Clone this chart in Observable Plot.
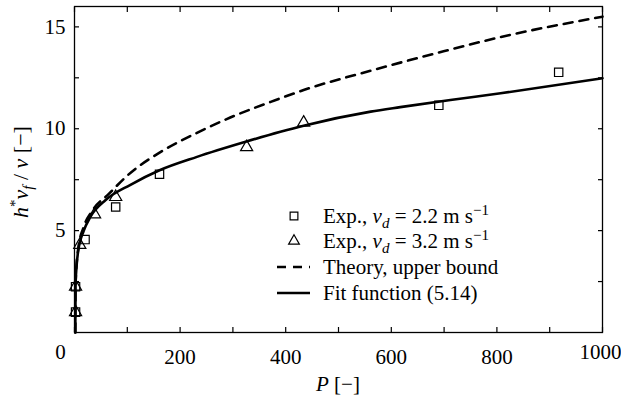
<!DOCTYPE html>
<html>
<head>
<meta charset="utf-8">
<script src="https://cdn.jsdelivr.net/npm/d3@7"></script>
<script src="https://cdn.jsdelivr.net/npm/@observablehq/plot@0.6"></script>
<style>
  html, body { margin: 0; padding: 0; background: white; }
  svg { display: block; }
  svg text, svg tspan { font-family: "Liberation Serif", "Times New Roman", serif !important; }
</style>
</head>
<body>
<div id="chart"></div>
<script>
// Experimental data, v_d = 2.2 m/s (squares)
const expSlowP = [2, 2, 20, 78, 161, 690, 917];
const expSlowH = [1.0, 2.25, 4.56, 6.16, 7.77, 11.15, 12.77];
// Experimental data, v_d = 3.2 m/s (triangles)
const expFastP = [2, 2, 10, 38, 78, 326, 434];
const expFastH = [1.0, 2.25, 4.3, 5.8, 6.65, 9.1, 10.3];
// Fit function (5.14)
const fitP = [1.5, 2, 7, 17.6, 30, 59, 106, 160, 232, 324, 390, 434, 561, 617, 712, 807, 1000];
const fitH = [0, 2.4, 4.0, 5.0, 5.67, 6.5, 7.25, 7.95, 8.62, 9.36, 9.85, 10.15, 10.84, 11.06, 11.41, 11.74, 12.48];
// Theory, upper bound
const theoryP = [1.5, 2, 7, 17, 33, 65, 100, 169, 232, 295, 380, 434, 561, 699, 807, 1000];
const theoryH = [0, 2.4, 4.1, 5.15, 5.95, 6.8, 7.7, 8.95, 9.8, 10.55, 11.4, 11.9, 12.85, 13.8, 14.5, 15.5];
// Ticks
const xTicks = [0, 100, 200, 300, 400, 500, 600, 700, 800, 900, 1000];
const xLabels = [200, 400, 600, 800, 1000];
const yTicks = [2.5, 5, 7.5, 10, 12.5, 15];
const yLabels = [5, 10, 15];

const zip = (xs, ys) => xs.map((x, i) => ({x, y: ys[i]}));
const fitData = zip(fitP, fitH);
const theoryData = zip(theoryP, theoryH);
const squares = zip(expSlowP, expSlowH);
const triangles = zip(expFastP, expFastH);

const FONT = "Liberation Serif";
const txt = {fontFamily: FONT, fontSize: 21};

const chart = Plot.plot({
  width: 621,
  height: 397,
  marginTop: 6,
  marginBottom: 65,
  marginLeft: 74,
  marginRight: 19,
  x: {domain: [0, 1000]},
  y: {domain: [0, 16]},
  style: {fontFamily: FONT, fontSize: "21px", background: "white", color: "black", overflow: "visible"},
  marks: [
    Plot.line(theoryData, {x: "x", y: "y", curve: "monotone-x", stroke: "black", strokeWidth: 2.6, strokeDasharray: "9,7"}),
    Plot.line(fitData, {x: "x", y: "y", curve: "monotone-x", stroke: "black", strokeWidth: 2.6}),
    Plot.dot(squares, {x: "x", y: "y", symbol: "square", r: 4.7, stroke: "black", strokeWidth: 1.2, fill: "none"}),
    Plot.dot(triangles, {x: "x", y: "y", symbol: "triangle", r: 4.5, stroke: "black", strokeWidth: 1.2, fill: "none"}),
    Plot.frame({stroke: "black", strokeWidth: 1.3}),
    // bottom axis: inward ticks + labels
    Plot.axisX({anchor: "bottom", ticks: xTicks, tickSize: 5, dy: -5, tickPadding: 17, ...txt,
      tickFormat: d => xLabels.includes(d) && d < 1000 ? String(d) : "", label: null, strokeWidth: 1.2}),
    Plot.axisX({anchor: "bottom", ticks: [1000], tickSize: 0, tickPadding: 12, dx: -2, ...txt,
      tickFormat: d => String(d), label: null}),
    Plot.axisX({anchor: "bottom", ticks: [0], tickSize: 0, tickPadding: 12, dx: -14, ...txt,
      tickFormat: d => String(d), label: null}),
    // top axis: inward ticks only
    Plot.axisX({anchor: "top", ticks: xTicks, tickSize: 5, dy: 5, tickFormat: () => "", label: null, strokeWidth: 1.2}),
    // left axis
    Plot.axisY({anchor: "left", ticks: yTicks, tickSize: 5, dx: 5, tickPadding: 9, ...txt,
      tickFormat: d => yLabels.includes(d) ? String(d) : "", label: null, strokeWidth: 1.2}),
    // right axis: inward ticks only
    Plot.axisY({anchor: "right", ticks: yTicks, tickSize: 5, dx: -5, tickFormat: () => "", label: null, strokeWidth: 1.2})
  ]
});
document.getElementById("chart").appendChild(chart);

const svg = d3.select(chart);

// Axis titles
const xt = svg.append("text")
  .attr("x", 338).attr("y", 391)
  .attr("text-anchor", "middle")
  .attr("font-size", 21).attr("fill", "black");
xt.append("tspan").attr("font-style", "italic").text("P");
xt.append("tspan").text(" [\u2212]");

const yt = svg.append("text")
  .attr("transform", "translate(28,172) rotate(-90)")
  .attr("text-anchor", "middle")
  .attr("font-size", 22).attr("fill", "black");
yt.append("tspan").attr("font-style", "italic").text("h");
yt.append("tspan").attr("font-size", 15).attr("dy", -8).text("*");
yt.append("tspan").attr("font-style", "italic").attr("dy", 8).text("v");
yt.append("tspan").attr("font-style", "italic").attr("font-size", 15).attr("dy", 5).text("f");
yt.append("tspan").attr("dy", -5).text(" / ");
yt.append("tspan").attr("font-style", "italic").text("\u03BD");
yt.append("tspan").text(" [\u2212]");

// Legend
const legendRows = [
  {kind: "square", parts: [["Exp., "], ["v", "it"], ["d", "sub"], [" = 2.2 m s"], ["\u22121", "sup"]]},
  {kind: "triangle", parts: [["Exp., "], ["v", "it"], ["d", "sub"], [" = 3.2 m s"], ["\u22121", "sup"]]},
  {kind: "dash", parts: [["Theory, upper bound"]]},
  {kind: "solid", parts: [["Fit function (5.14)"]]}
];
const rowY = [216, 241, 267, 293];
const lg = svg.append("g");
legendRows.forEach((row, i) => {
  const cy = rowY[i];
  if (row.kind === "square" || row.kind === "triangle") {
    lg.append("path")
      .attr("d", d3.symbol(row.kind === "square" ? d3.symbolSquare : d3.symbolTriangle, row.kind === "square" ? 60 : 50)())
      .attr("transform", `translate(294,${cy})`)
      .attr("fill", "none").attr("stroke", "black").attr("stroke-width", 1.2);
  } else {
    lg.append("line")
      .attr("x1", 277).attr("x2", 310).attr("y1", cy).attr("y2", cy)
      .attr("stroke", "black").attr("stroke-width", 2.6)
      .attr("stroke-dasharray", row.kind === "dash" ? "9,7" : null);
  }
  const t = lg.append("text")
    .attr("x", 323).attr("y", cy + 7)
    .attr("text-anchor", "start")
    .attr("font-size", 21).attr("fill", "black");
  let shift = 0;
  row.parts.forEach(([s, style]) => {
    const ts = t.append("tspan").text(s);
    let target = 0;
    if (style === "it") ts.attr("font-style", "italic");
    if (style === "sub") { ts.attr("font-style", "italic").attr("font-size", 15); target = 5; }
    if (style === "sup") { ts.attr("font-size", 15); target = -8; }
    ts.attr("dy", target - shift);
    shift = target;
  });
});
</script>
</body>
</html>
